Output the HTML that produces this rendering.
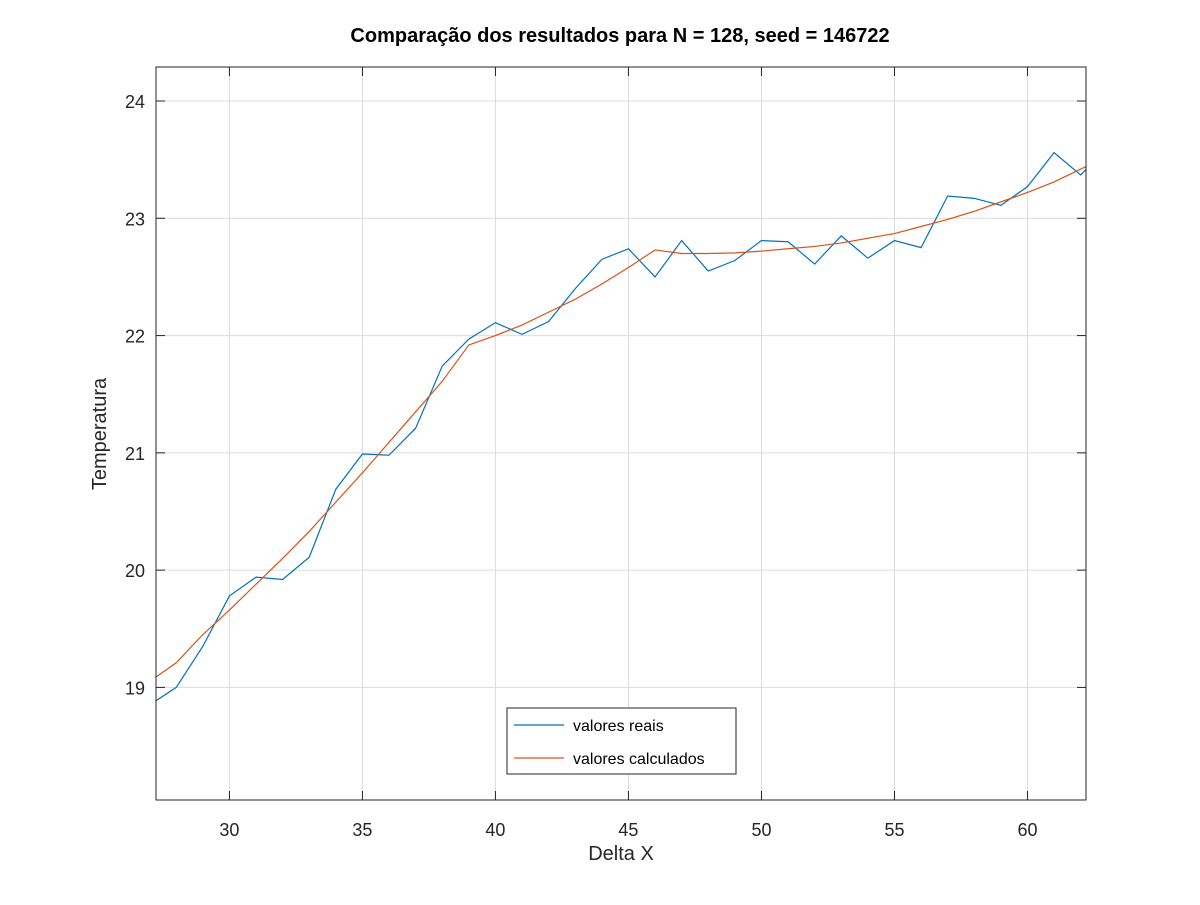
<!DOCTYPE html>
<html><head><meta charset="utf-8"><style>
body{margin:0;background:#fff;}
svg text{font-family:"Liberation Sans",sans-serif;fill:#262626;}
</style></head><body>
<svg id="chart" width="1200" height="900">
<rect x="0" y="0" width="1200" height="900" fill="#fff"/>
<g id="grid"></g>
<g id="series"></g>
<g id="axes"></g>
<text x="620" y="42" text-anchor="middle" font-size="20" font-weight="bold" style="fill:#000">Comparação dos resultados para N = 128, seed = 146722</text>
<text x="621" y="860" text-anchor="middle" font-size="20">Delta X</text>
<text transform="translate(106,434) rotate(-90)" text-anchor="middle" font-size="20">Temperatura</text>
<g>
<rect x="507" y="708" width="229" height="66" fill="#fff" stroke="#262626" stroke-width="1"/>
<line x1="514" y1="725" x2="564" y2="725" stroke="#0072bd" stroke-width="1.2"/>
<text x="573" y="731" font-size="16" style="fill:#000">valores reais</text>
<line x1="514" y1="758" x2="564" y2="758" stroke="#d95319" stroke-width="1.2"/>
<text x="573" y="764" font-size="16" style="fill:#000">valores calculados</text>
</g>
</svg>
<script>
const xValues=[27,28,29,30,31,32,33,34,35,36,37,38,39,40,41,42,43,44,45,46,47,48,49,50,51,52,53,54,55,56,57,58,59,60,61,62,63];
const realValues=[18.85,19.00,19.35,19.78,19.94,19.92,20.11,20.69,20.99,20.98,21.21,21.74,21.97,22.11,22.01,22.12,22.40,22.65,22.74,22.50,22.81,22.55,22.64,22.81,22.80,22.61,22.85,22.66,22.81,22.75,23.19,23.17,23.11,23.27,23.56,23.37,23.60];
const calcValues=[19.05,19.21,19.45,19.66,19.88,20.10,20.33,20.58,20.83,21.09,21.35,21.61,21.92,22.00,22.09,22.20,22.31,22.44,22.58,22.73,22.70,22.70,22.705,22.72,22.74,22.76,22.79,22.83,22.87,22.93,22.99,23.06,23.14,23.22,23.31,23.42,23.52];
const xTicks=[30,35,40,45,50,55,60];
const yTicks=[19,20,21,22,23,24];
const L=156,R=1086,T=67,B=800;
const xMin=27.24,xMax=62.2,yMin=18.04,yMax=24.29;
const sx=v=>L+(v-xMin)/(xMax-xMin)*(R-L);
const sy=v=>B-(v-yMin)/(yMax-yMin)*(B-T);
const NS="http://www.w3.org/2000/svg";
function mk(tag,attrs,parent){const e=document.createElementNS(NS,tag);for(const k in attrs)e.setAttribute(k,attrs[k]);parent.appendChild(e);return e;}
const grid=document.getElementById('grid'),axes=document.getElementById('axes'),series=document.getElementById('series');
xTicks.forEach(t=>{const x=sx(t);
 const g=mk('line',{x1:x,x2:x,y1:T,y2:B,stroke:'#dcdcdc','stroke-width':1},grid);
 
 
 mk('line',{x1:x,x2:x,y1:B,y2:B-9,stroke:'#262626'},axes);
 mk('line',{x1:x,x2:x,y1:T,y2:T+9,stroke:'#262626'},axes);
 const tx=mk('text',{x:x,y:B+36,'text-anchor':'middle','font-size':18},axes);tx.textContent=t;
 
 
});
yTicks.forEach(t=>{const y=sy(t);
 const g=mk('line',{x1:L,x2:R,y1:y,y2:y,stroke:'#dcdcdc','stroke-width':1},grid);
 
 
 mk('line',{x1:L,x2:L+9,y1:y,y2:y,stroke:'#262626'},axes);
 mk('line',{x1:R,x2:R-9,y1:y,y2:y,stroke:'#262626'},axes);
 const tx=mk('text',{x:L-11,y:y+7,'text-anchor':'end','font-size':18},axes);tx.textContent=t;
 
 
});
const frame=mk('rect',{x:L,y:T,width:R-L,height:B-T,fill:'none',stroke:'#262626','stroke-width':1},axes);


const cp=mk('clipPath',{id:'clip'},series);mk('rect',{x:L,y:T,width:R-L,height:B-T},cp);
function line(vals,color,name){
 const p=mk('polyline',{points:xValues.map((x,i)=>sx(x)+','+sy(vals[i])).join(' '),fill:'none',stroke:color,'stroke-width':1.2,'clip-path':'url(#clip)'},series);
 
 
}
line(realValues,'#0072bd','series-valores-reais');
line(calcValues,'#d95319','series-valores-calculados');
</script>
</body></html>
